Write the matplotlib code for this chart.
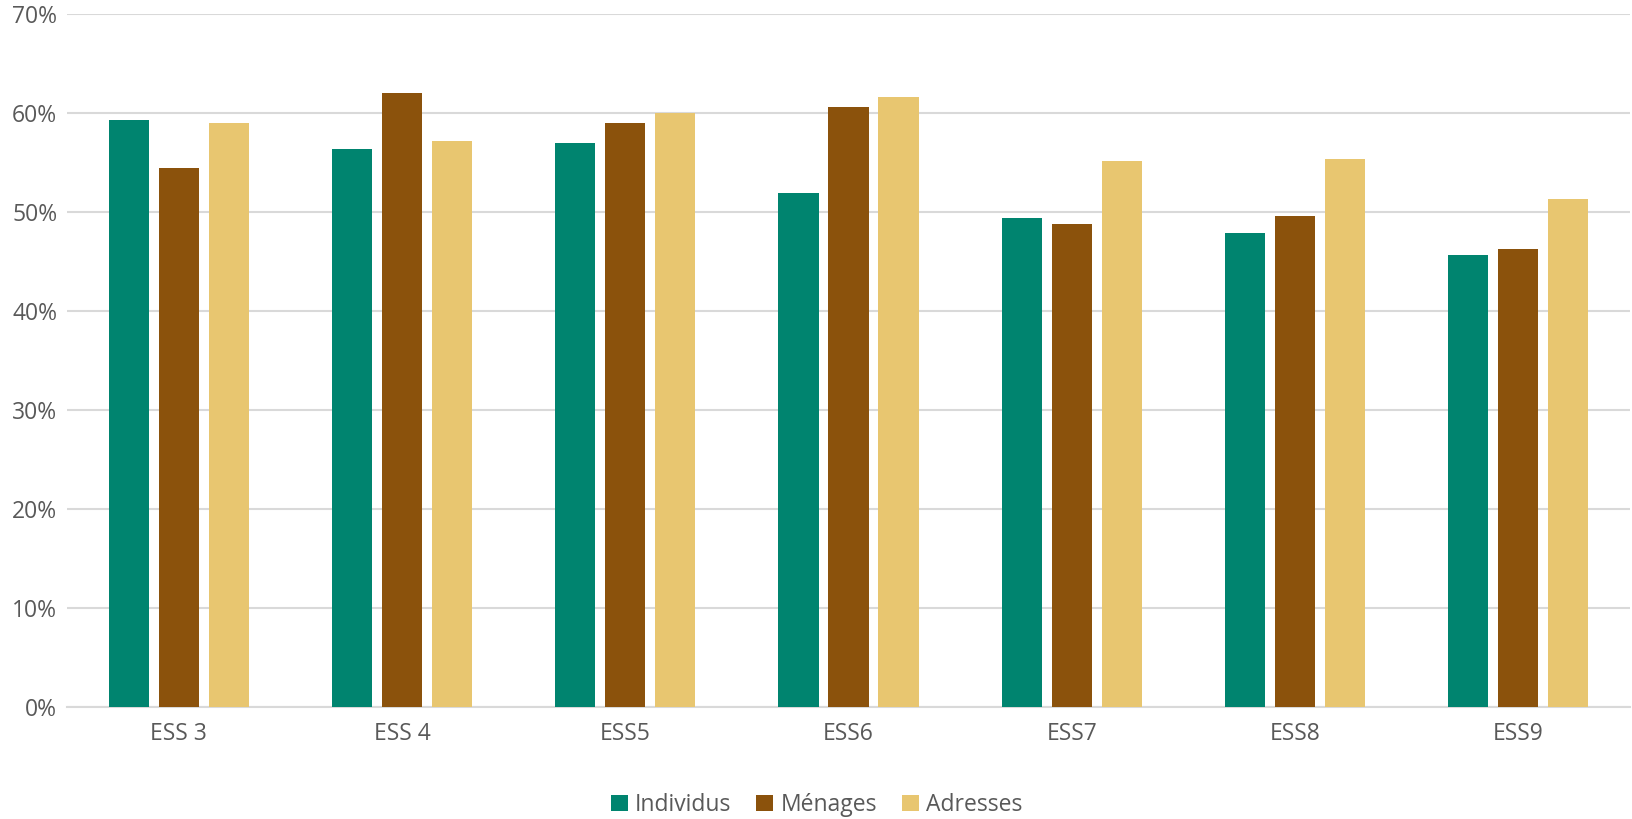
import matplotlib
matplotlib.use("Agg")
import matplotlib.pyplot as plt
import numpy as np
from matplotlib.ticker import FuncFormatter

categories = ["ESS 3", "ESS 4", "ESS5", "ESS6", "ESS7", "ESS8", "ESS9"]
individus = [59.3, 56.4, 57.0, 51.9, 49.4, 47.9, 45.7]
menages = [54.4, 62.0, 59.0, 60.6, 48.8, 49.6, 46.3]
adresses = [59.0, 57.2, 60.0, 61.6, 55.2, 55.4, 51.3]
series_names = ["Individus", "Ménages", "Adresses"]
colors = ["#00846F", "#8B520C", "#E8C670"]

plt.rcParams['font.family'] = ['Open Sans', 'DejaVu Sans']
text_color = "#595959"

fig = plt.figure(figsize=(16.33, 8.19), dpi=100)
ax = fig.add_axes([67/1633, 1-707/819, (1630-67)/1633, (707-14)/819])

x = np.arange(len(categories))
w = 0.18
off = 0.224
for i, (vals, name, c) in enumerate(zip([individus, menages, adresses], series_names, colors)):
    ax.bar(x + (i-1)*off, vals, width=w, color=c, label=name, zorder=3)

ax.set_xlim(-0.5, len(categories)-0.5)
ax.set_ylim(0, 70)
ax.set_yticks(np.arange(0, 71, 10))
ax.yaxis.set_major_formatter(FuncFormatter(lambda v, p: f"{int(v)}%"))
ax.set_xticks(x)
ax.set_xticklabels(categories)
ax.grid(axis='y', color="#d9d9d9", linewidth=1.5, zorder=0)
for s in ['top', 'right', 'left']:
    ax.spines[s].set_visible(False)
ax.spines['bottom'].set_color("#d9d9d9")
ax.spines['bottom'].set_linewidth(1.5)
ax.tick_params(axis='both', length=0, colors=text_color, labelsize=16.5)
ax.tick_params(axis='x', pad=11)
ax.tick_params(axis='y', pad=7)

leg = fig.legend(loc='center', bbox_to_anchor=(0.5, 1-805/819), ncol=3, frameon=False,
                 fontsize=16.5, handlelength=0.75, handleheight=0.75, handletextpad=0.3,
                 columnspacing=1.1)
for t in leg.get_texts():
    t.set_color(text_color)

fig.savefig("out.png", dpi=100)
